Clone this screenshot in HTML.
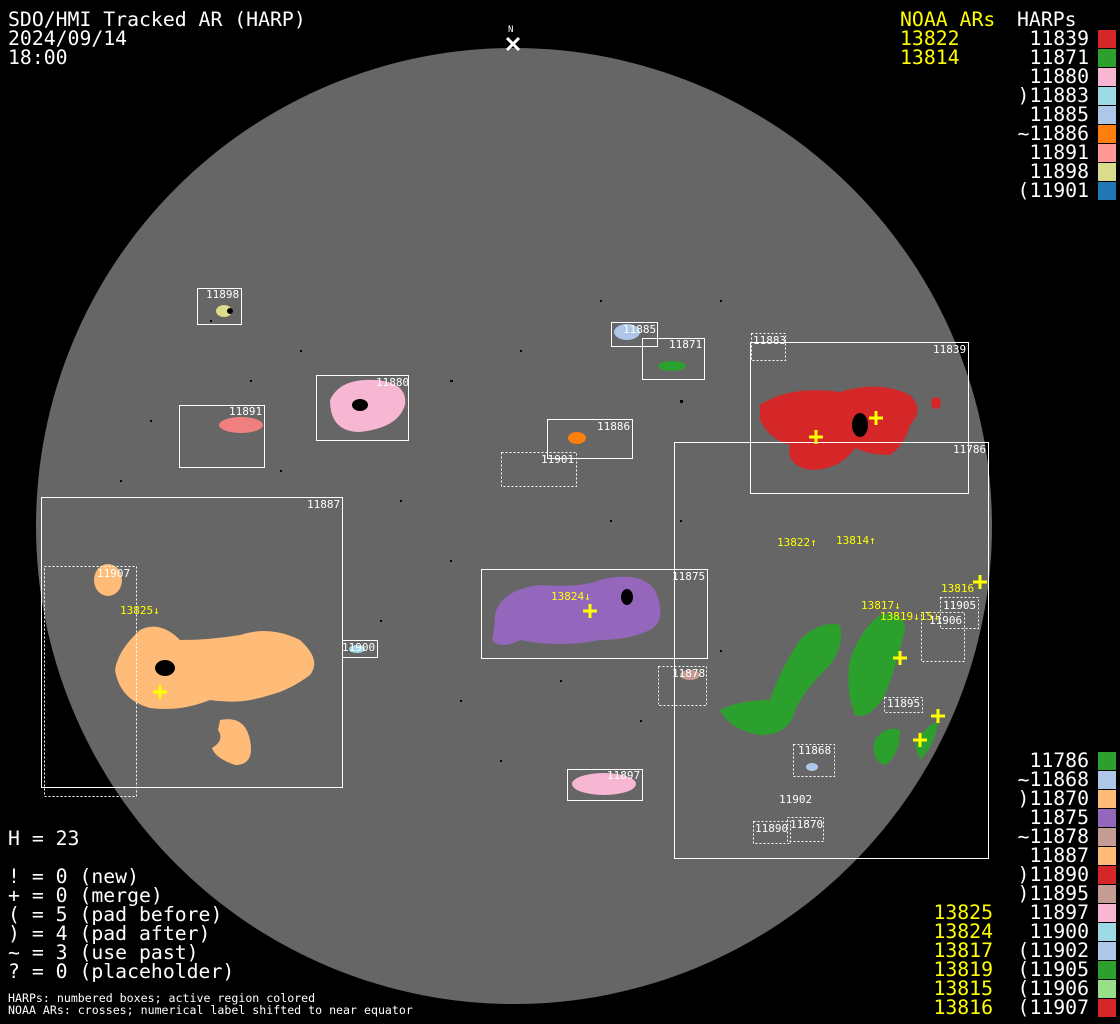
<!DOCTYPE html>
<html><head><meta charset="utf-8"><style>
html,body{margin:0;padding:0;background:#000;}
svg{display:block;}
text{font-family:"DejaVu Sans Mono","Liberation Mono",monospace;}
</style></head><body>
<svg width="1120" height="1024" viewBox="0 0 1120 1024" xmlns="http://www.w3.org/2000/svg">
<rect width="1120" height="1024" fill="#000"/>
<circle cx="514" cy="526" r="478" fill="#666"/>
<g fill="#000">
<rect x="210" y="320" width="2" height="2"/><rect x="300" y="350" width="2" height="2"/><rect x="450" y="380" width="3" height="2"/>
<rect x="520" y="350" width="2" height="2"/><rect x="680" y="400" width="3" height="3"/><rect x="720" y="300" width="2" height="2"/>
<rect x="400" y="500" width="2" height="2"/><rect x="450" y="560" width="2" height="2"/><rect x="610" y="520" width="2" height="2"/>
<rect x="380" y="620" width="2" height="2"/><rect x="460" y="700" width="2" height="2"/><rect x="560" y="680" width="2" height="2"/>
<rect x="280" y="470" width="2" height="2"/><rect x="150" y="420" width="2" height="2"/><rect x="120" y="480" width="2" height="2"/>
<rect x="720" y="650" width="2" height="2"/><rect x="640" y="720" width="2" height="2"/><rect x="500" y="760" width="2" height="2"/>
<rect x="600" y="300" width="2" height="2"/><rect x="250" y="380" width="2" height="2"/><rect x="680" y="520" width="2" height="2"/>
</g>
<ellipse cx="224" cy="311" rx="8" ry="6" fill="#dcdc8c"/>
<ellipse cx="241" cy="425" rx="22" ry="8" fill="#f08080"/>
<path d="M330 400 Q340 378 375 380 Q408 382 405 405 Q398 428 360 432 Q330 432 330 400Z" fill="#f7b6d2"/>
<ellipse cx="627" cy="332" rx="13" ry="8" fill="#aec7e8"/>
<ellipse cx="672" cy="366" rx="14" ry="5" fill="#2ca02c"/>
<ellipse cx="577" cy="438" rx="9" ry="6" fill="#ff7f0e"/>
<path d="M760 405 Q790 385 840 392 Q880 380 910 395 Q925 410 910 425 Q905 445 890 455 Q870 455 855 448 Q840 470 810 470 Q785 465 790 445 Q770 440 760 420Z" fill="#d62728"/>
<ellipse cx="936" cy="403" rx="5" ry="6" fill="#d62728"/>
<ellipse cx="108" cy="580" rx="14" ry="16" fill="#ffbb78"/>
<path d="M140 630 Q160 620 180 640 Q210 640 240 635 Q270 625 300 640 Q322 660 310 675 Q290 690 270 695 Q240 705 210 700 Q180 712 150 708 Q120 700 115 670 Q118 650 140 630Z" fill="#ffbb78"/>
<path d="M220 720 Q245 715 250 740 Q255 765 235 765 Q215 758 212 748 Q225 740 218 730Z" fill="#ffbb78"/>
<ellipse cx="357" cy="649" rx="8" ry="4" fill="#9edae5"/>
<path d="M495 615 Q500 590 540 585 Q580 588 600 580 Q640 570 655 590 Q668 620 650 630 Q630 640 600 640 Q560 648 520 640 Q500 650 492 640 Q495 628 495 615Z" fill="#9467bd"/>
<ellipse cx="690" cy="675" rx="10" ry="5" fill="#c49c94"/>
<ellipse cx="604" cy="784" rx="32" ry="11" fill="#f7b6d2"/>
<ellipse cx="812" cy="767" rx="6" ry="4" fill="#aec7e8"/>
<path d="M720 710 Q740 700 770 700 Q780 670 800 640 Q820 620 840 625 Q845 650 825 670 Q805 690 795 710 Q790 735 760 735 Q730 730 720 710Z" fill="#2ca02c"/>
<path d="M850 660 Q860 630 880 615 Q905 610 905 630 Q895 670 885 695 Q870 720 855 715 Q845 690 850 660Z" fill="#2ca02c"/>
<path d="M875 740 Q885 725 900 730 Q900 755 885 765 Q870 760 875 740Z" fill="#2ca02c"/>
<path d="M915 745 Q925 725 938 722 Q935 745 920 760Z" fill="#2ca02c"/>
<g fill="#000"><ellipse cx="860" cy="425" rx="8" ry="12"/><ellipse cx="627" cy="597" rx="6" ry="8"/><ellipse cx="165" cy="668" rx="10" ry="8"/><ellipse cx="360" cy="405" rx="8" ry="6"/><ellipse cx="230" cy="311" rx="3" ry="3"/></g>
<g fill="none" stroke="#fff" stroke-width="1">
<rect x="197.5" y="288.5" width="44" height="36"/>
<rect x="179.5" y="405.5" width="85" height="62"/>
<rect x="316.5" y="375.5" width="92" height="65"/>
<rect x="611.5" y="322.5" width="46" height="24"/>
<rect x="642.5" y="338.5" width="62" height="41"/>
<rect x="547.5" y="419.5" width="85" height="39"/>
<rect x="750.5" y="342.5" width="218" height="151"/>
<rect x="674.5" y="442.5" width="314" height="416"/>
<rect x="41.5" y="497.5" width="301" height="290"/>
<rect x="342.5" y="640.5" width="35" height="17"/>
<rect x="481.5" y="569.5" width="226" height="89"/>
<rect x="567.5" y="769.5" width="75" height="31"/>
</g>
<g fill="none" stroke="#fff" stroke-width="1" stroke-dasharray="2,2">
<rect x="501.5" y="452.5" width="75" height="34"/>
<rect x="751.5" y="333.5" width="34" height="27"/>
<rect x="44.5" y="566.5" width="92" height="230"/>
<rect x="658.5" y="666.5" width="48" height="39"/>
<rect x="793.5" y="744.5" width="41" height="32"/>
<rect x="753.5" y="821.5" width="37" height="22"/>
<rect x="787.5" y="817.5" width="36" height="24"/>
<rect x="884.5" y="697.5" width="38" height="15"/>
<rect x="940.5" y="597.5" width="38" height="31"/>
<rect x="921.5" y="612.5" width="43" height="49"/>
</g>
<g fill="#fff" font-size="11">
<text x="206" y="298">11898</text><text x="229" y="415">11891</text><text x="376" y="386">11880</text>
<text x="623" y="333">11885</text><text x="669" y="348">11871</text><text x="597" y="430">11886</text>
<text x="541" y="463">11901</text><text x="753" y="344">11883</text><text x="933" y="353">11839</text>
<text x="953" y="453">11786</text><text x="307" y="508">11887</text><text x="97" y="577">11907</text>
<text x="342" y="651">11900</text><text x="672" y="580">11875</text><text x="672" y="677">11878</text>
<text x="607" y="779">11897</text><text x="798" y="754">11868</text><text x="779" y="803">11902</text>
<text x="755" y="832">11890</text><text x="790" y="828">11870</text><text x="887" y="707">11895</text>
<text x="943" y="609">11905</text><text x="929" y="624">11906</text>
</g>
<g stroke="#ff0" stroke-width="3">
<path d="M809 437h14M816 430v14"/><path d="M869 418h14M876 411v14"/><path d="M583 611h14M590 604v14"/>
<path d="M153 692h14M160 685v14"/><path d="M893 658h14M900 651v14"/><path d="M931 716h14M938 709v14"/>
<path d="M913 740h14M920 733v14"/><path d="M973 582h14M980 575v14"/>
</g>
<g fill="#ff0" font-size="11">
<text x="777" y="546">13822↑</text><text x="836" y="544">13814↑</text><text x="120" y="614">13825↓</text>
<text x="551" y="600">13824↓</text><text x="861" y="609">13817↓</text><text x="880" y="620">13819↓15↓</text>
<text x="941" y="592">13816</text>
</g>
<path d="M507 38l12 12M519 38l-12 12" stroke="#fff" stroke-width="3"/>
<text x="508" y="32" fill="#fff" font-size="9">N</text>
<g fill="#fff" font-size="19.8">
<text x="8" y="26">SDO/HMI Tracked AR (HARP)</text>
<text x="8" y="45">2024/09/14</text>
<text x="8" y="64">18:00</text>
<text x="8" y="845">H = 23</text>
<text x="8" y="883">! = 0 (new)</text>
<text x="8" y="902">+ = 0 (merge)</text>
<text x="8" y="921">( = 5 (pad before)</text>
<text x="8" y="940">) = 4 (pad after)</text>
<text x="8" y="959">~ = 3 (use past)</text>
<text x="8" y="978">? = 0 (placeholder)</text>
</g>
<g fill="#fff" font-size="11.6">
<text x="8" y="1002">HARPs: numbered boxes; active region colored</text>
<text x="8" y="1014">NOAA ARs: crosses; numerical label shifted to near equator</text>
</g>
<g fill="#ff0" font-size="19.8">
<text x="900" y="26">NOAA ARs</text><text x="900" y="45">13822</text><text x="900" y="64">13814</text>
</g>
<g fill="#ff0" font-size="19.8" text-anchor="end">
<text x="993" y="919">13825</text><text x="993" y="938">13824</text><text x="993" y="957">13817</text>
<text x="993" y="976">13819</text><text x="993" y="995">13815</text><text x="993" y="1014">13816</text>
</g>
<text x="1017" y="26" fill="#fff" font-size="19.8">HARPs</text>
<g fill="#fff" font-size="19.8" text-anchor="end">
<text x="1089" y="45">11839</text><text x="1089" y="64">11871</text><text x="1089" y="83">11880</text>
<text x="1089" y="102">)11883</text><text x="1089" y="121">11885</text><text x="1089" y="140">~11886</text>
<text x="1089" y="159">11891</text><text x="1089" y="178">11898</text><text x="1089" y="197">(11901</text>
<text x="1089" y="767">11786</text><text x="1089" y="786">~11868</text><text x="1089" y="805">)11870</text>
<text x="1089" y="824">11875</text><text x="1089" y="843">~11878</text><text x="1089" y="862">11887</text>
<text x="1089" y="881">)11890</text><text x="1089" y="900">)11895</text><text x="1089" y="919">11897</text>
<text x="1089" y="938">11900</text><text x="1089" y="957">(11902</text><text x="1089" y="976">(11905</text>
<text x="1089" y="995">(11906</text><text x="1089" y="1014">(11907</text>
</g>
<g>
<rect x="1098" y="30" width="18" height="18" fill="#d62728"/><rect x="1098" y="49" width="18" height="18" fill="#2ca02c"/>
<rect x="1098" y="68" width="18" height="18" fill="#f7b6d2"/><rect x="1098" y="87" width="18" height="18" fill="#9edae5"/>
<rect x="1098" y="106" width="18" height="18" fill="#aec7e8"/><rect x="1098" y="125" width="18" height="18" fill="#ff7f0e"/>
<rect x="1098" y="144" width="18" height="18" fill="#ff9896"/><rect x="1098" y="163" width="18" height="18" fill="#dbdb8d"/>
<rect x="1098" y="182" width="18" height="18" fill="#1f77b4"/>
<rect x="1098" y="752" width="18" height="18" fill="#2ca02c"/><rect x="1098" y="771" width="18" height="18" fill="#aec7e8"/>
<rect x="1098" y="790" width="18" height="18" fill="#ffbb78"/><rect x="1098" y="809" width="18" height="18" fill="#9467bd"/>
<rect x="1098" y="828" width="18" height="18" fill="#c49c94"/><rect x="1098" y="847" width="18" height="18" fill="#ffbb78"/>
<rect x="1098" y="866" width="18" height="18" fill="#d62728"/><rect x="1098" y="885" width="18" height="18" fill="#c49c94"/>
<rect x="1098" y="904" width="18" height="18" fill="#f7b6d2"/><rect x="1098" y="923" width="18" height="18" fill="#9edae5"/>
<rect x="1098" y="942" width="18" height="18" fill="#aec7e8"/><rect x="1098" y="961" width="18" height="18" fill="#2ca02c"/>
<rect x="1098" y="980" width="18" height="18" fill="#98df8a"/><rect x="1098" y="999" width="18" height="18" fill="#d62728"/>
</g>
</svg>
</body></html>
